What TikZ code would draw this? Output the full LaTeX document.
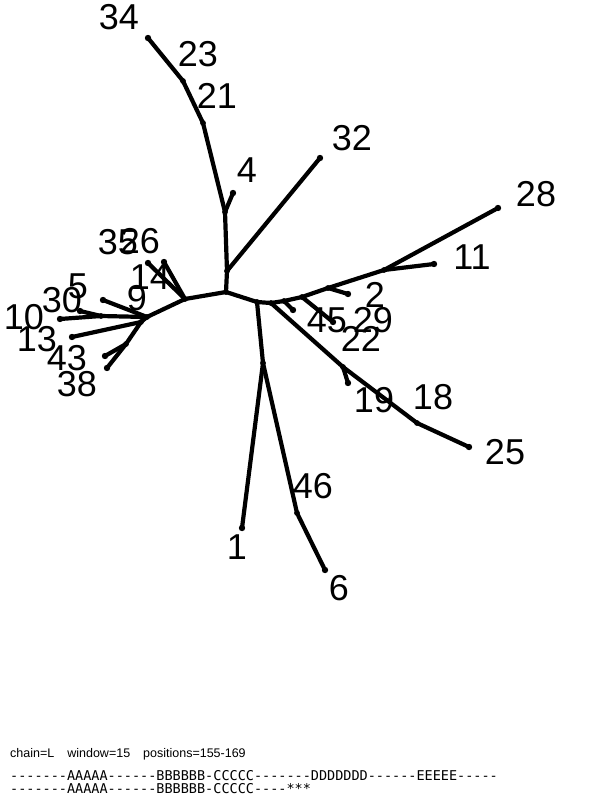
\documentclass[tikz,border=0pt]{standalone}
\usepackage{fontspec}
\setmainfont{Liberation Sans}
\setmonofont{DejaVu Sans Mono}
\begin{document}
\begin{tikzpicture}[x=1pt,y=-1pt,
  edge/.style={line width=4.2pt,line cap=round,line join=round},
  lbl/.style={font=\fontsize{36}{36}\selectfont,inner sep=0pt},
  leafdot/.style={fill=black},
  info/.style={anchor=base west,inner sep=0pt,font=\fontsize{12.5}{12.5}\selectfont},
  seq/.style={anchor=base west,inner sep=0pt,font=\ttfamily\fontsize{13.5}{13.5}\selectfont}]
\useasboundingbox (0,0) rectangle (600,800);
% tree points
\coordinate (A) at (226,292);
\coordinate (U1) at (227,271);
\coordinate (U2) at (225,212);
\coordinate (U3) at (203,123);
\coordinate (U4) at (183,81);
\coordinate (l34) at (148,38);
\coordinate (l4) at (233,193);
\coordinate (l32) at (320,158);
\coordinate (B) at (257,302);
\coordinate (R1) at (271,303);
\coordinate (R2) at (284,301);
\coordinate (lr2) at (293,310);
\coordinate (R3) at (302,297);
\coordinate (l45) at (333,322);
\coordinate (R4) at (328,288);
\coordinate (l2) at (348,294);
\coordinate (R5) at (384,270);
\coordinate (l11) at (434,264);
\coordinate (l28) at (498,208);
\coordinate (D1) at (343,367);
\coordinate (l19) at (348,383);
\coordinate (D2) at (417,423);
\coordinate (l25) at (469,447);
\coordinate (V1) at (263,363);
\coordinate (l1) at (242,528);
\coordinate (V2) at (297,513);
\coordinate (l6) at (325,570);
\coordinate (C) at (185,299);
\coordinate (l14a) at (164,262);
\coordinate (l14b) at (148,263);
\coordinate (D) at (147,317);
\coordinate (l9) at (103,300);
\coordinate (E) at (101,316);
\coordinate (l5) at (80,311);
\coordinate (l10) at (60,319);
\coordinate (F) at (141,322);
\coordinate (l13) at (72,337);
\coordinate (G) at (126,344);
\coordinate (l43) at (105,356);
\coordinate (l38) at (107,368);
% edges
\draw[edge] (A) -- (U1) -- (U2) -- (U3) -- (U4) -- (l34);
\draw[edge] (U2) -- (l4);
\draw[edge] (U1) -- (l32);
\draw[edge] (A) -- (B) -- (R1) -- (R2) -- (R3) -- (R4) -- (R5) -- (l28);
\draw[edge] (R2) -- (lr2);
\draw[edge] (R3) -- (l45);
\draw[edge] (R4) -- (l2);
\draw[edge] (R5) -- (l11);
\draw[edge] (R1) -- (D1) -- (D2) -- (l25);
\draw[edge] (D1) -- (l19);
\draw[edge] (B) -- (V1) -- (l1);
\draw[edge] (V1) -- (V2) -- (l6);
\draw[edge] (A) -- (C) -- (D);
\draw[edge] (C) -- (l14a);
\draw[edge] (C) -- (l14b);
\draw[edge] (D) -- (l9);
\draw[edge] (D) -- (E) -- (l10);
\draw[edge] (E) -- (l5);
\draw[edge] (D) -- (F) -- (l13);
\draw[edge] (F) -- (G) -- (l38);
\draw[edge] (G) -- (l43);
% dots
\foreach \p in {l34,l4,l32,lr2,l45,l2,l11,l28,l19,l25,l1,l6,l14a,l14b,l9,l5,l10,l13,l43,l38}
  \fill[leafdot] (\p) circle (3.2pt);
\foreach \p in {A,U1,U2,U3,U4,B,R1,R2,R3,R4,R5,D1,D2,V1,V2,C,D,E,F,G}
  \fill[leafdot] (\p) circle (2.9pt);
% labels
\node[lbl] (t34) at (119,17) {34};
\node[lbl] (t23) at (198,54) {23};
\node[lbl] (t21) at (217,96) {21};
\node[lbl] (t4) at (247,170) {4};
\node[lbl] (t32) at (352,138) {32};
\node[lbl] (t28) at (536,194) {28};
\node[lbl] (t11) at (472,257) {11};
\node[lbl] (t2) at (375,295) {2};
\node[lbl] (t45) at (327,320) {45};
\node[lbl] (t29) at (373,320) {29};
\node[lbl] (t22) at (361,339) {22};
\node[lbl] (t19) at (374,400) {19};
\node[lbl] (t18) at (433,397) {18};
\node[lbl] (t25) at (505,452) {25};
\node[lbl] (t46) at (313,486) {46};
\node[lbl] (t1) at (237,547) {1};
\node[lbl] (t6) at (339,588) {6};
\node[lbl] (t35) at (118,242) {35};
\node[lbl] (t26) at (140,241) {26};
\node[lbl] (t14) at (150,277) {14};
\node[lbl] (t9) at (137,298) {9};
\node[lbl] (t5) at (78,286) {5};
\node[lbl] (t30) at (62,300) {30};
\node[lbl] (t10) at (24,317) {10};
\node[lbl] (t13) at (37,339) {13};
\node[lbl] (t43) at (67,358) {43};
\node[lbl] (t38) at (77,384) {38};
% bottom text
\node[info] (chain) at (10,757) {chain=L\hspace{13pt}window=15\hspace{13pt}positions=155-169};
\node[seq] (s1) at (10,780) {-------AAAAA------BBBBBB-CCCCC-------DDDDDDD------EEEEE-----};
\node[seq] (s2) at (10,793) {-------AAAAA------BBBBBB-CCCCC----***};
\end{tikzpicture}
\end{document}
